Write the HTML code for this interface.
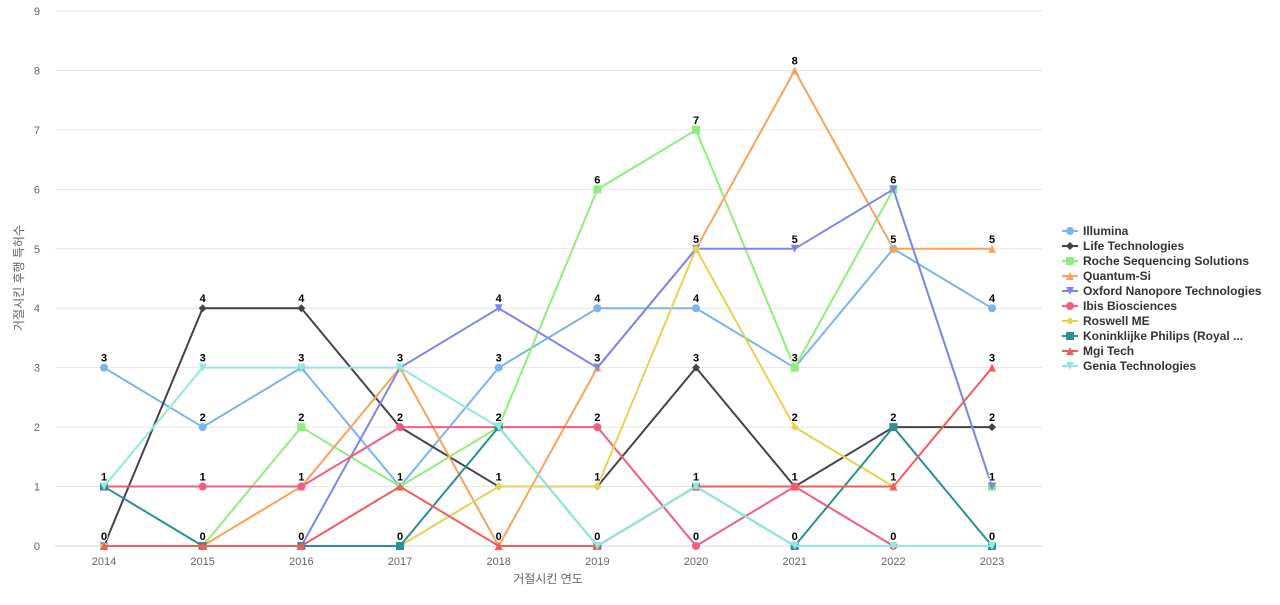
<!DOCTYPE html>
<html><head><meta charset="utf-8"><style>
body{margin:0;background:#fff;font-family:"Liberation Sans","Noto Sans CJK KR",sans-serif;}
svg text{font-family:"Liberation Sans","Noto Sans CJK KR",sans-serif;}
</style></head><body>
<svg id="chart" width="1280" height="600" xmlns="http://www.w3.org/2000/svg"></svg>
<script>
const categories=["2014","2015","2016","2017","2018","2019","2020","2021","2022","2023"];
const yTicks=[0,1,2,3,4,5,6,7,8,9];
const seriesNames=["Illumina","Life Technologies","Roche Sequencing Solutions","Quantum-Si","Oxford Nanopore Technologies","Ibis Biosciences","Roswell ME","Koninklijke Philips (Royal ...","Mgi Tech","Genia Technologies"];
const illumina=[3,2,3,1,3,4,4,3,5,4];
const lifeTech=[0,4,4,2,1,1,3,1,2,2];
const roche=[0,0,2,1,2,6,7,3,6,1];
const quantumSi=[0,0,1,3,0,3,5,8,5,5];
const oxford=[0,0,0,3,4,3,5,5,6,1];
const ibis=[1,1,1,2,2,2,0,1,0,0];
const roswell=[0,0,0,0,1,1,5,2,1,null];
const philips=[1,0,0,0,2,0,1,0,2,0];
const mgi=[0,0,0,1,0,0,1,1,1,3];
const genia=[1,3,3,3,2,0,1,0,0,0];
const seriesValues=[illumina,lifeTech,roche,quantumSi,oxford,ibis,roswell,philips,mgi,genia];
const colors=["#7cb5ec","#434348","#90ed7d","#f7a35c","#8085e9","#f15c80","#e4d354","#2b908f","#f45b5b","#91e8e1"];
const markers=["circle","diamond","square","triangle","tdown","circle","diamond","square","triangle","tdown"];
const NS="http://www.w3.org/2000/svg";
const svg=document.getElementById('chart');
const x0=104,xStep=98.67,y0=546,yStep=59.44;
function xs(i){return x0+i*xStep;}
function ys(v){return y0-v*yStep;}
function mk(tag,attrs,parent){const e=document.createElementNS(NS,tag);for(const k in attrs)e.setAttribute(k,attrs[k]);(parent||svg).appendChild(e);return e;}
yTicks.forEach(t=>{
  const l=mk('line',{x1:55,x2:1042,y1:ys(t),y2:ys(t),stroke:t===0?'#ccd6eb':'#e6e6e6','stroke-width':1});
  
  
  const tx=mk('text',{x:40,y:ys(t)+4,'text-anchor':'end','font-size':11,fill:'#666'});
  tx.textContent=t;
  
  
});
categories.forEach((c,i)=>{
  const tx=mk('text',{x:xs(i),y:565,'text-anchor':'middle','font-size':11,fill:'#666'});
  tx.textContent=c;
  
  
});
const xt=mk('text',{x:548,y:583,'text-anchor':'middle','font-size':12,fill:'#666'});xt.textContent='거절시킨 연도';


const yt=mk('text',{x:23,y:278,'text-anchor':'middle','font-size':12,fill:'#666',transform:'rotate(-90 23 278)'});yt.textContent='거절시킨 후행 특허수';


function marker(type,cx,cy,col,g){
  let e;
  if(type==='circle')e=mk('circle',{cx,cy,r:4,fill:col},g);
  else if(type==='square')e=mk('rect',{x:cx-4,y:cy-4,width:8,height:8,fill:col},g);
  else if(type==='diamond')e=mk('path',{d:`M${cx} ${cy-4}L${cx+4} ${cy}L${cx} ${cy+4}L${cx-4} ${cy}Z`,fill:col},g);
  else if(type==='triangle')e=mk('path',{d:`M${cx} ${cy-4}L${cx+4} ${cy+4}L${cx-4} ${cy+4}Z`,fill:col},g);
  else e=mk('path',{d:`M${cx-4} ${cy-4}L${cx+4} ${cy-4}L${cx} ${cy+4}Z`,fill:col},g);
  return e;
}
seriesValues.forEach((vals,s)=>{
  const g=mk('g',{});
  
  
  let d='';let pen=false;
  vals.forEach((v,i)=>{if(v===null){pen=false;return;}d+=(pen?'L':'M')+xs(i)+' '+ys(v);pen=true;});
  const p=mk('path',{d,fill:'none',stroke:colors[s],'stroke-width':2},g);
  
  
  vals.forEach((v,i)=>{if(v===null)return;const m=marker(markers[s],xs(i),ys(v),colors[s],g);
    
    });
});
categories.forEach((c,i)=>{
  const seen=new Set();
  seriesValues.forEach(vals=>{const v=vals[i];if(v===null||seen.has(v))return;seen.add(v);
    const t=mk('text',{x:xs(i),y:ys(v)-6,'text-anchor':'middle','font-size':11,'font-weight':'bold',fill:'#000',stroke:'#fff','stroke-width':2,'paint-order':'stroke'});
    t.textContent=v;
    
    });
});
seriesNames.forEach((n,s)=>{
  const y=231+s*15;
  const g=mk('g',{});
  
  
  mk('line',{x1:1062,x2:1078,y1:y,y2:y,stroke:colors[s],'stroke-width':2},g);
  marker(markers[s],1070,y,colors[s],g);
  const t=mk('text',{x:1083,y:y+4,'font-size':12,'font-weight':'bold',fill:'#333'},g);t.textContent=n;
});
</script>
</body></html>
